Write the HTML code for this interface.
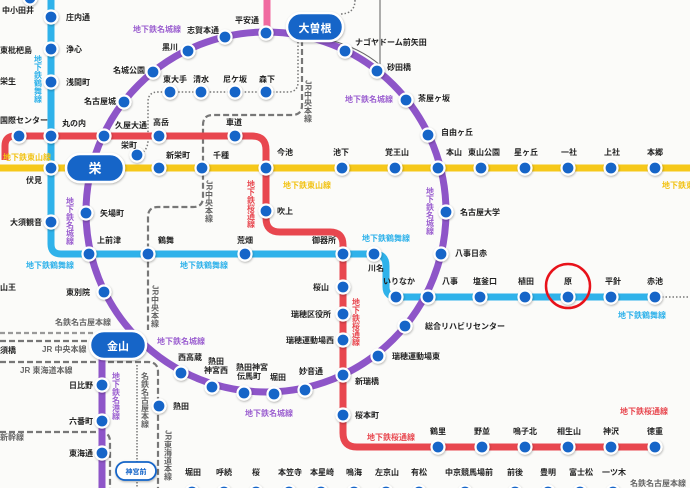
<!DOCTYPE html>
<html><head><meta charset="utf-8"><style>
html,body{margin:0;padding:0;background:#fbfbf9;}
svg{display:block;}
text{font-family:"Liberation Sans","Noto Sans CJK JP",sans-serif;font-weight:bold;}
.s{font-size:8px;fill:#222;}
.lp{font-size:8px;fill:#9b5fd0;}
.lb{font-size:8px;fill:#2fb2ea;}
.lr{font-size:8px;fill:#e8474f;}
.ly{font-size:8px;fill:#f2c316;}
.lg{font-size:8px;fill:#666;font-weight:normal;}
</style></head><body>
<svg width="690" height="488" viewBox="0 0 690 488" xmlns="http://www.w3.org/2000/svg">
<defs>
<filter id="sh" x="-50%" y="-50%" width="200%" height="200%"><feDropShadow dx="0.5" dy="1" stdDeviation="1" flood-color="#000" flood-opacity="0.3"/></filter>
<symbol id="d" overflow="visible"><circle r="6.5" fill="#1565c8" stroke="#fff" stroke-width="2.2"/></symbol>
</defs>
<rect width="690" height="488" fill="#fbfbf9"/>

<g fill="none" stroke="#777" stroke-width="2.2">
<path d="M302 40 V105 Q302 115 292 115 H213 Q203 115 203 125 V197 Q203 207 193 207 H158 Q148 207 148 217 V330" stroke-dasharray="6,3"/>
<path d="M0 333 H95" stroke-dasharray="5,3" stroke="#999"/>
<path d="M0 341 H95" stroke-dasharray="6,3"/>
<path d="M0 362 H148 Q158 362 158 372 V488" stroke-dasharray="6,3"/>
<path d="M0 432 H100 Q110 432 110 442 V488" stroke-dasharray="6,3"/>
<path d="M137 365 V488" stroke-dasharray="1.5,1.5" stroke-width="1.5"/>
<path d="M137 155 Q148 152 148 140 V102 Q148 92 158 92 H288 Q298 92 298 82 V40" stroke-dasharray="1.5,2" stroke-width="1.5"/>
<path d="M355 0 Q355 14 340 14" stroke-dasharray="1.5,2" stroke-width="1.5"/>
<path d="M380 0 V65" stroke-width="1.2"/>
<path d="M655 297 H690" stroke-dasharray="1.5,2" stroke-width="1.5"/>
</g>

<path d="M267 0 V33" stroke="#f06aa0" stroke-width="7" fill="none"/>
<path d="M51 0 V244 Q51 254 61 254 H374 Q386 254 386 266 V287 Q386 297 398 297 H655" stroke="#2fb2ea" stroke-width="7" fill="none"/>
<path d="M5 160 V146 Q5 136 15 136 H252 Q266 136 266 150 V218 Q266 232 280 232 H330 Q343 232 343 245 V433 Q343 447 357 447 H655" stroke="#e8474f" stroke-width="7" fill="none"/>
<path d="M0 168 H690" stroke="#f6c81a" stroke-width="7" fill="none"/>
<circle cx="266" cy="212" r="180" stroke="#8e55c8" stroke-width="7" fill="none"/>
<path d="M102 350 V488" stroke="#8e55c8" stroke-width="7" fill="none"/>
<path d="M330 40 Q360 48 380 65" stroke="#666" stroke-width="1" fill="none"/>

<g filter="url(#sh)">
<use href="#d" x="51" y="17"/><use href="#d" x="51" y="49"/><use href="#d" x="51" y="82"/>
<use href="#d" x="51" y="136"/><use href="#d" x="51" y="168"/><use href="#d" x="51" y="222"/>
<use href="#d" x="19" y="136"/><use href="#d" x="104" y="136"/><use href="#d" x="159" y="136"/><use href="#d" x="235" y="136"/>
<use href="#d" x="137" y="155"/>
<use href="#d" x="170" y="92"/><use href="#d" x="201" y="92"/><use href="#d" x="235" y="92"/><use href="#d" x="266" y="92"/>
<use href="#d" x="124" y="102"/><use href="#d" x="153" y="72"/><use href="#d" x="188" y="51"/><use href="#d" x="225" y="37"/><use href="#d" x="266" y="33"/>
<use href="#d" x="345" y="51"/><use href="#d" x="377" y="71"/><use href="#d" x="406" y="100"/><use href="#d" x="428" y="135"/>
<use href="#d" x="159" y="168"/><use href="#d" x="202" y="168"/><use href="#d" x="266" y="168"/><use href="#d" x="342" y="168"/><use href="#d" x="395" y="168"/><use href="#d" x="438" y="168"/><use href="#d" x="481" y="168"/><use href="#d" x="525" y="168"/><use href="#d" x="568" y="168"/><use href="#d" x="611" y="168"/><use href="#d" x="655" y="168"/>
<use href="#d" x="86" y="213"/><use href="#d" x="266" y="211"/><use href="#d" x="446" y="212"/>
<use href="#d" x="89" y="254"/><use href="#d" x="148" y="254"/><use href="#d" x="245" y="254"/><use href="#d" x="343" y="254"/><use href="#d" x="374" y="254"/><use href="#d" x="441" y="254"/>
<use href="#d" x="104" y="292"/><use href="#d" x="343" y="287"/><use href="#d" x="343" y="314"/><use href="#d" x="343" y="340"/>
<use href="#d" x="396" y="297"/><use href="#d" x="428" y="297"/><use href="#d" x="480" y="297"/><use href="#d" x="525" y="297"/><use href="#d" x="568" y="297"/><use href="#d" x="611" y="297"/><use href="#d" x="655" y="297"/>
<use href="#d" x="405" y="326"/><use href="#d" x="378" y="356"/><use href="#d" x="343" y="375"/>
<use href="#d" x="181" y="373"/><use href="#d" x="212" y="387"/><use href="#d" x="244" y="393"/><use href="#d" x="274" y="394"/><use href="#d" x="305" y="390"/>
<use href="#d" x="102" y="385"/><use href="#d" x="102" y="421"/><use href="#d" x="102" y="453"/><use href="#d" x="159" y="406"/>
<use href="#d" x="343" y="415"/>
<use href="#d" x="438" y="447"/><use href="#d" x="482" y="447"/><use href="#d" x="525" y="447"/><use href="#d" x="568" y="447"/><use href="#d" x="611" y="447"/><use href="#d" x="655" y="447"/>
<use href="#d" x="192" y="492"/><use href="#d" x="224" y="492"/><use href="#d" x="256" y="492"/><use href="#d" x="289" y="492"/><use href="#d" x="321" y="492"/><use href="#d" x="354" y="492"/><use href="#d" x="386" y="492"/><use href="#d" x="419" y="492"/><use href="#d" x="465" y="492"/><use href="#d" x="515" y="492"/><use href="#d" x="548" y="492"/><use href="#d" x="580" y="492"/><use href="#d" x="613" y="492"/>
<use href="#d" x="30" y="-2"/>
</g>

<g filter="url(#sh)">
<rect x="66" y="154" width="58" height="28" rx="14" fill="#1565c8" stroke="#fff" stroke-width="2.5"/>
<rect x="287" y="13" width="56" height="28" rx="14" fill="#1565c8" stroke="#fff" stroke-width="2.5"/>
<rect x="90" y="331" width="56" height="28" rx="14" fill="#1565c8" stroke="#fff" stroke-width="2.5"/>
<rect x="116" y="462" width="40" height="18" rx="9" fill="#fff" stroke="#1565c8" stroke-width="1.8"/>
</g>
<text x="95" y="173" font-size="13" fill="#fff" text-anchor="middle">栄</text>
<text x="315" y="32" font-size="11" fill="#fff" text-anchor="middle">大曽根</text>
<text x="118" y="350" font-size="11" fill="#fff" text-anchor="middle">金山</text>
<text x="136" y="474" font-size="7" fill="#1565c8" text-anchor="middle">神宮前</text>

<circle cx="568" cy="286" r="22" fill="none" stroke="#e8121a" stroke-width="2.5"/>

<g class="s">
<text x="2" y="13">中小田井</text><text x="66" y="20">庄内通</text><text x="66" y="52">浄心</text><text x="0" y="53">東枇杷島</text>
<text x="66" y="85">浅間町</text><text x="0" y="84">栄生</text><text x="0" y="123">国際センター</text><text x="62" y="126">丸の内</text>
<text x="115" y="128">久屋大通</text><text x="153" y="125">高岳</text><text x="121" y="148">栄町</text><text x="226" y="125">車道</text>
<text x="163" y="82">東大手</text><text x="193" y="82">清水</text><text x="223" y="82">尼ケ坂</text><text x="259" y="82">森下</text>
<text x="113" y="73">名城公園</text><text x="84" y="104">名古屋城</text><text x="162" y="50">黒川</text><text x="187" y="33">志賀本通</text><text x="235" y="23">平安通</text>
<text x="355" y="45">ナゴヤドーム前矢田</text><text x="387" y="70">砂田橋</text><text x="418" y="101">茶屋ヶ坂</text><text x="441" y="135">自由ヶ丘</text>
<text x="166" y="158">新栄町</text><text x="213" y="158">千種</text><text x="277" y="155">今池</text><text x="333" y="155">池下</text><text x="385" y="155">覚王山</text><text x="446" y="155">本山</text><text x="468" y="155">東山公園</text><text x="514" y="155">星ヶ丘</text><text x="561" y="155">一社</text><text x="604" y="155">上社</text><text x="647" y="155">本郷</text>
<text x="26" y="183">伏見</text><text x="10" y="225">大須観音</text><text x="100" y="216">矢場町</text><text x="277" y="214">吹上</text><text x="460" y="215">名古屋大学</text>
<text x="97" y="243">上前津</text><text x="158" y="243">鶴舞</text><text x="237" y="243">荒畑</text><text x="312" y="243">御器所</text><text x="368" y="271">川名</text><text x="455" y="256">八事日赤</text>
<text x="66" y="295">東別院</text><text x="0" y="290">山王</text><text x="313" y="290">桜山</text><text x="291" y="317">瑞穂区役所</text><text x="286" y="343">瑞穂運動場西</text>
<text x="383" y="284">いりなか</text><text x="442" y="284">八事</text><text x="473" y="284">塩釜口</text><text x="518" y="284">植田</text><text x="564" y="284">原</text><text x="605" y="284">平針</text><text x="647" y="284">赤池</text>
<text x="425" y="329">総合リハビリセンター</text><text x="392" y="359">瑞穂運動場東</text><text x="355" y="384">新瑞橋</text><text x="355" y="418">桜本町</text>
<text x="178" y="360">西高蔵</text><text x="208" y="364">熱田</text><text x="204" y="373">神宮西</text><text x="236" y="370">熱田神宮</text><text x="237" y="379">伝馬町</text><text x="270" y="380">堀田</text><text x="299" y="374">妙音通</text>
<text x="69" y="388">日比野</text><text x="69" y="424">六番町</text><text x="69" y="456">東海通</text><text x="173" y="409">熱田</text><text x="0" y="353">須橋</text>
<text x="430" y="434">鶴里</text><text x="474" y="434">野並</text><text x="513" y="434">鳴子北</text><text x="557" y="434">相生山</text><text x="603" y="434">神沢</text><text x="647" y="434">徳重</text>
<text x="185" y="475">堀田</text><text x="216" y="475">呼続</text><text x="252" y="475">桜</text><text x="278" y="475">本笠寺</text><text x="310" y="475">本星崎</text><text x="346" y="475">鳴海</text><text x="375" y="475">左京山</text><text x="411" y="475">有松</text><text x="445" y="475">中京競馬場前</text><text x="507" y="475">前後</text><text x="540" y="475">豊明</text><text x="569" y="475">富士松</text><text x="602" y="475">一ツ木</text>
</g>

<text class="lp" x="133" y="32">地下鉄名城線</text>
<text class="lp" x="345" y="102">地下鉄名城線</text>
<text class="lp" x="157" y="344">地下鉄名城線</text>
<text class="lp" x="245" y="416">地下鉄名城線</text>
<text class="lp" x="70" y="197" font-size="7" writing-mode="tb">地下鉄名城線</text>
<text class="lp" x="430" y="187" font-size="7" writing-mode="tb">地下鉄名城線</text>
<text class="lp" x="116" y="372" font-size="7" writing-mode="tb">地下鉄名港線</text>
<text class="ly" x="3" y="160">地下鉄東山線</text>
<text class="ly" x="283" y="188">地下鉄東山線</text>
<text class="ly" x="662" y="188">地下鉄東山線</text>
<text class="lb" x="26" y="268">地下鉄鶴舞線</text>
<text class="lb" x="180" y="268">地下鉄鶴舞線</text>
<text class="lb" x="362" y="241">地下鉄鶴舞線</text>
<text class="lb" x="618" y="318">地下鉄鶴舞線</text>
<text class="lb" x="38" y="55" font-size="7" writing-mode="tb">地下鉄鶴舞線</text>
<text class="lr" x="251" y="180" font-size="7" writing-mode="tb">地下鉄桜通線</text>
<text class="lr" x="356" y="298" font-size="7" writing-mode="tb">地下鉄桜通線</text>
<text class="lr" x="620" y="414">地下鉄桜通線</text>
<text class="lr" x="367" y="440">地下鉄桜通線</text>
<g class="lg">
<text x="55" y="325">名鉄名古屋本線</text><text x="42" y="352">JR 中央本線</text><text x="20" y="373">JR 東海道本線</text>
<text x="0" y="440">新幹線</text><text x="630" y="486">名鉄名古屋本線</text>
<text x="308" y="80" writing-mode="tb">JR中央本線</text>
<text x="209" y="180" writing-mode="tb">JR中央本線</text>
<text x="155" y="285" writing-mode="tb">JR中央本線</text>
<text x="145" y="372" writing-mode="tb">名鉄名古屋本線</text>
<text x="168" y="430" writing-mode="tb">JR東海道本線</text>
</g>
</svg>
</body></html>
